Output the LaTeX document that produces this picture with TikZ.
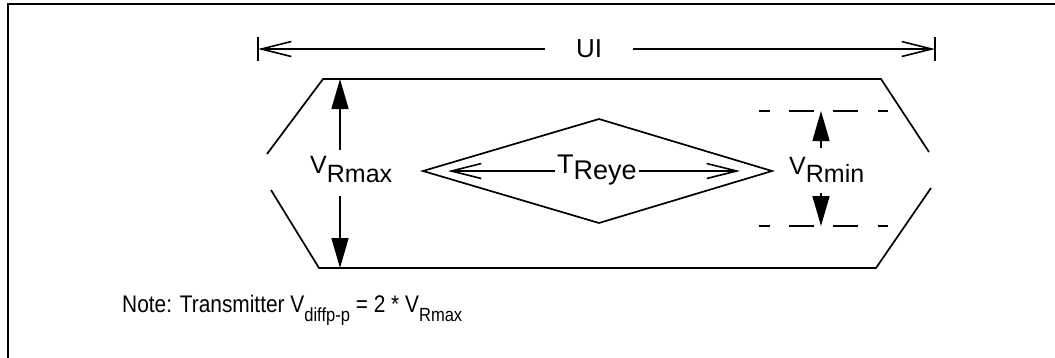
\documentclass[tikz,border=0pt]{standalone}
\usepackage{fontspec}
\setmainfont{Liberation Sans}
\newfontfamily\narrowfont[FakeStretch=0.87]{Liberation Sans}
\usetikzlibrary{arrows.meta}
\begin{document}
\begin{tikzpicture}[x=1pt,y=-1pt,
  ln/.style={line width=1.7pt},
  openarrow/.style={line width=1.6pt,-{Straight Barb[length=30pt,width=15pt,line width=1.6pt]}},
  solidarrow/.style={line width=1.6pt,-{Triangle[length=30pt,width=17pt]}},
  lbl/.style={inner sep=0pt,font=\fontsize{25}{29}\selectfont},
  frameline/.style={line width=2.3pt}]
\useasboundingbox (0,0) rectangle (1055,357);
% frame
\draw[frameline] (7.8,360) -- (7.8,4.3) -- (1060,4.3);
% labels
\node[lbl,anchor=base,inner xsep=31pt,font=\fontsize{26}{30}\selectfont] (ui) at (589,57) {UI};
\node[lbl,anchor=base west] (vrmax) at (310,173) {V\raisebox{-9pt}{Rmax}};
\node[lbl,anchor=base west] (vrmin) at (789,174) {V\raisebox{-8pt}{Rmin}};
\node[lbl,anchor=base west,inner xsep=2pt,font=\fontsize{27}{31}\selectfont] (treye) at (555,173) {T\raisebox{-6pt}{Reye}};
\node[inner sep=0pt,anchor=base west,font=\narrowfont\fontsize{24}{28}\selectfont] (note) at (122,312)
  {Note: Transmitter V\raisebox{-9pt}{\fontsize{19}{22}\selectfont diffp-p} = 2 * V\raisebox{-9pt}{\fontsize{19}{22}\selectfont Rmax}};
% coordinates
\coordinate (uil) at (258,49);
\coordinate (uir) at (935,49);
\coordinate (trl) at (448,171);
\coordinate (trr) at (740,171);
\coordinate (vxtop) at (340,79);
\coordinate (vxa) at (340,150);
\coordinate (vxb) at (340,196);
\coordinate (vxbot) at (340,268);
\coordinate (vntop) at (821,111);
\coordinate (vna) at (821,148);
\coordinate (vnb) at (821,193);
\coordinate (vnbot) at (821,226);
% eye outline
\draw[ln] (267,154) -- (323,79) -- (881,79) -- (929,152);
\draw[ln] (271,190) -- (319,268) -- (876,268) -- (931,188);
% diamond
\draw[ln] (423,171) -- (599,119) -- (772,171) -- (599,223) -- cycle;
% UI dimension
\draw[openarrow] (uil -| ui.west) -- (uil);
\draw[openarrow] (uir -| ui.east) -- (uir);
\draw[ln] (uil) ++(0,-12) -- ++(0,24);
\draw[ln] (uir) ++(0,-12) -- ++(0,24);
% T_Reye
\draw[openarrow] (trl -| treye.west) -- (trl);
\draw[openarrow] (trr -| treye.east) -- (trr);
% V_Rmax
\draw[solidarrow] (vxa) -- (vxtop);
\draw[solidarrow] (vxb) -- (vxbot);
% V_Rmin
\draw[ln,dash pattern=on 11pt off 19pt on 25pt off 19pt on 25pt off 20pt on 10pt off 100pt] (759,111) -- (889,111);
\draw[ln,dash pattern=on 11pt off 19pt on 25pt off 19pt on 25pt off 20pt on 10pt off 100pt] (759,226) -- (889,226);
\draw[solidarrow] (vna) -- (vntop);
\draw[solidarrow] (vnb) -- (vnbot);
\end{tikzpicture}
\end{document}
